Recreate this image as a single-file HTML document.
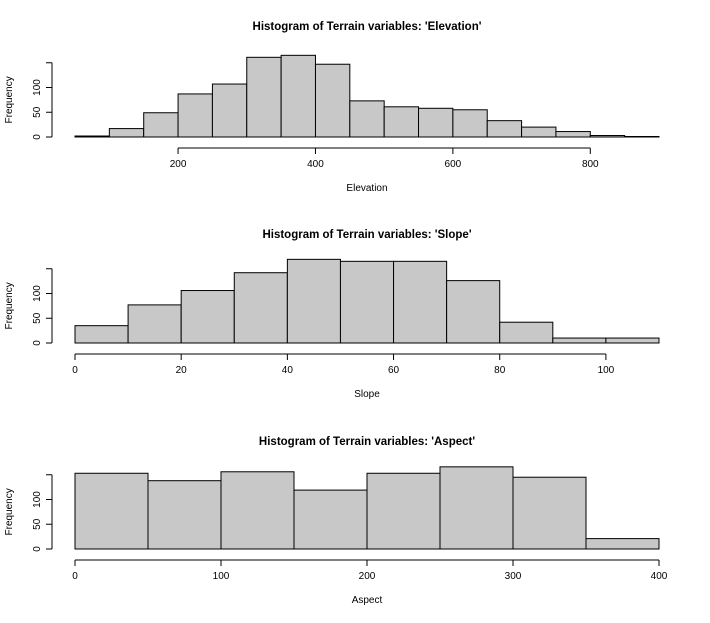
<!DOCTYPE html>
<html><head><meta charset="utf-8"><style>body{margin:0;background:#fff}svg text{font-family:"Liberation Sans",sans-serif;fill:#000}</style></head>
<body>
<svg id="c" width="710" height="618" xmlns="http://www.w3.org/2000/svg"></svg>
<script>
const elevBreaks=[50,100,150,200,250,300,350,400,450,500,550,600,650,700,750,800,850,900];
const elevCounts=[2,17,49,87,107,161,165,147,73,61,58,55,33,20,11,3,1];
const elevTicks=[200,400,600,800];
const slopeBreaks=[0,10,20,30,40,50,60,70,80,90,100,110];
const slopeCounts=[35,77,106,142,169,165,165,126,42,10,10];
const slopeTicks=[0,20,40,60,80,100];
const aspectBreaks=[0,50,100,150,200,250,300,350,400];
const aspectCounts=[153,138,156,119,153,166,145,21];
const aspectTicks=[0,100,200,300,400];
const yTicks=[0,50,100,150];
const yTickLabels=['0','50','100',''];
const panels=[
 {name:'elevation',title:"Histogram of Terrain variables: 'Elevation'",xl:'Elevation',b:elevBreaks,c:elevCounts,t:elevTicks,y0:137,top:0},
 {name:'slope',title:"Histogram of Terrain variables: 'Slope'",xl:'Slope',b:slopeBreaks,c:slopeCounts,t:slopeTicks,y0:343,top:208},
 {name:'aspect',title:"Histogram of Terrain variables: 'Aspect'",xl:'Aspect',b:aspectBreaks,c:aspectCounts,t:aspectTicks,y0:549,top:415}
];
const svg=document.getElementById('c');
const NS='http://www.w3.org/2000/svg';
function mk(tag,attrs,parent){const e=document.createElementNS(NS,tag);for(const k in attrs)e.setAttribute(k,attrs[k]);(parent||svg).appendChild(e);return e;}
panels.forEach(p=>{
 const g=mk('g',{});
 
 
 const xmin=p.b[0],xmax=p.b[p.b.length-1];
 const X=v=>75+(v-xmin)*(659-75)/(xmax-xmin);
 const Y=v=>p.y0-v*0.495;
 const t=mk('text',{x:367,y:p.top+30,'text-anchor':'middle','font-size':11.5,'font-weight':'bold'},g);
 t.textContent=p.title;
 
 
 p.c.forEach((v,i)=>{
  const r=mk('rect',{x:X(p.b[i]),y:Y(v),width:X(p.b[i+1])-X(p.b[i]),height:p.y0-Y(v),fill:'#c8c8c8',stroke:'#000','stroke-width':1},g);
  
  
 });
 const ax=mk('g',{stroke:'#000','stroke-width':1},g);
 
 
 const ay0=p.y0+11;
 mk('line',{x1:X(p.t[0]),x2:X(p.t[p.t.length-1]),y1:ay0,y2:ay0},ax);
 p.t.forEach(v=>{
  mk('line',{x1:X(v),x2:X(v),y1:ay0,y2:ay0+6},ax);
  const l=mk('text',{x:X(v),y:ay0+19,'text-anchor':'middle','font-size':10,stroke:'none'},ax);
  l.textContent=v;
 });
 const ay=mk('g',{stroke:'#000','stroke-width':1},g);
 
 
 mk('line',{x1:52,x2:52,y1:Y(0),y2:Y(150)},ay);
 yTicks.forEach((v,i)=>{
  mk('line',{x1:46,x2:52,y1:Y(v),y2:Y(v)},ay);
  const l=mk('text',{x:40,y:Y(v),'text-anchor':'middle','font-size':10,stroke:'none',transform:`rotate(-90 40 ${Y(v)})`},ay);
  l.textContent=yTickLabels[i];
 });
 const xt=mk('text',{x:367,y:p.y0+54,'text-anchor':'middle','font-size':10},g);
 xt.textContent=p.xl;
 
 
 const yc=Y(75);
 const yt=mk('text',{x:12,y:yc,'text-anchor':'middle','font-size':10,transform:`rotate(-90 12 ${yc})`},g);
 yt.textContent='Frequency';
 
 
});
</script>
</body></html>
